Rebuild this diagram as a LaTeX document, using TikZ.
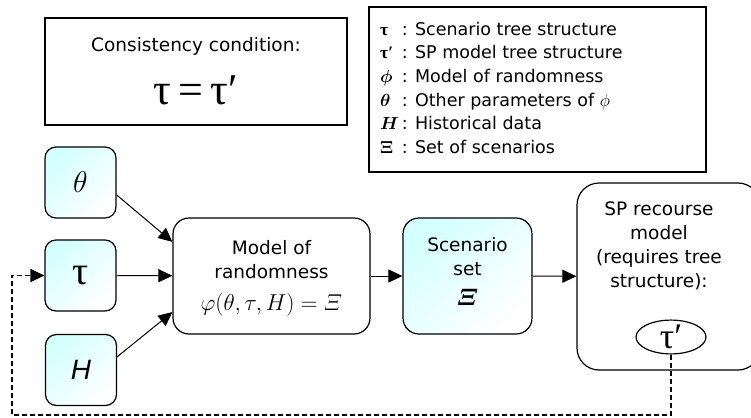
\RequirePackage{fix-cm}
\documentclass[tikz,border=0pt]{standalone}
\usepackage{amsmath}
\usepackage{bm}
\usepackage{fontspec}
\setmainfont{DejaVu Sans}
\newfontfamily\arialfont{Liberation Sans}
\newfontfamily\timesfont{Liberation Serif}
\usetikzlibrary{arrows.meta}
\usetikzlibrary{shapes.geometric}
\tikzset{
plain box/.style = { rectangle, draw = black, line width = 1.2pt, fill = white, inner sep = 0pt },
round box/.style = { plain box, rounded corners = 16pt },
cyan fill/.style = { left color = cyan!17, right color = white, shading angle = 45 },
input box/.style = { round box, cyan fill, rounded corners = 11pt, minimum width = 71pt, minimum height = 71pt,
        font = \fontsize{30}{30}\selectfont },
box text/.style = { align = center, inner sep = 0pt, font = \fontsize{18.5}{24}\selectfont },
flow/.style = { -{Triangle[length = 14pt, width = 13pt]}, line width = 1pt },
feedback/.style = { flow, dash pattern = on 5pt off 3pt, line width = 1.2pt },
}

\begin{document}
\begin{tikzpicture}[x = 1pt, y = -1pt]
    \clip (0,0) rectangle (751,417);
    % condition and legend
    \node[plain box, minimum width = 302pt, minimum height = 107pt] (cond) at (196,71.5) {};
    \node[box text] (cond title) at (196,46) {Consistency condition:};
    \node[inner sep = 0pt, font = \timesfont\fontsize{44}{44}\selectfont] (cond eq) at (196,90) {τ\,=\,τ′};
    \node[plain box, minimum width = 337pt, minimum height = 165pt] (legend) at (537.5,89.5) {};
    \node[anchor = west, inner sep = 0pt, font = \fontsize{17.5}{23}\selectfont] (legend text) at (380,89.5) {%
      \renewcommand{\arraystretch}{1.03}%
      \begin{tabular}{@{}l@{\,: }l@{}}
        {\timesfont\bfseries τ} & Scenario tree structure \\
        {\timesfont\bfseries τ′} & SP model tree structure \\
        $\bm{\phi}$ & Model of randomness \\
        $\bm{\theta}$ & Other parameters of $\phi$ \\
        $\bm{H}$ & Historical data \\
        $\bm{\Xi}$ & Set of scenarios
      \end{tabular}};
    % inputs
    \node[input box] (theta) at (80.5,182.5) {$\theta$};
    \node[input box] (tau) at (80.5,275.5) {\timesfont\fontsize{40}{40}\selectfont τ};
    \node[input box] (hist) at (81,370) {\arialfont\itshape\fontsize{28}{28}\selectfont H};
    % model, scenarios and SP model
    \node[round box, minimum width = 197pt, minimum height = 116pt] (model) at (271.5,276) {};
    \node[box text] (model text) at (271.5,260) {Model of\\randomness};
    \node[inner sep = 0pt, font = \fontsize{23}{23}\selectfont] (model eq) at (271.5,305) {$\varphi(\theta,\tau,H) = \varXi$};
    \node[round box, cyan fill, minimum width = 129pt, minimum height = 116pt] (scen) at (467.5,276) {};
    \node[box text] (scen text) at (467.5,256.5) {Scenario\\set};
    \node[inner sep = 0pt, font = \fontsize{24}{24}\selectfont] (scen xi) at (467.5,297) {$\bm{\varXi}$};
    \node[round box, rounded corners = 22pt, minimum width = 183pt, minimum height = 187pt] (sp) at (668.5,276.5) {};
    \node[box text] (sp text) at (659,246) {SP recourse\\model\\(requires tree\\structure):};
    \node[ellipse, draw = black, line width = 1.2pt, minimum width = 70pt, minimum height = 31pt, inner sep = 0pt,
          font = \timesfont\fontsize{36}{36}\selectfont] (taup) at (671,337) {τ′};
    % connectors
    \draw[flow] (theta.-19) -- (model.161);
    \draw[flow] (tau) -- (model);
    \draw[flow] (hist.20) -- (model.200);
    \draw[flow] (model) -- (scen);
    \draw[flow] (scen) -- (sp);
    \coordinate (fb corner) at (12,415);
    \draw[feedback] (taup.south) |- (fb corner) |- (tau.west);
\end{tikzpicture}
\end{document}
